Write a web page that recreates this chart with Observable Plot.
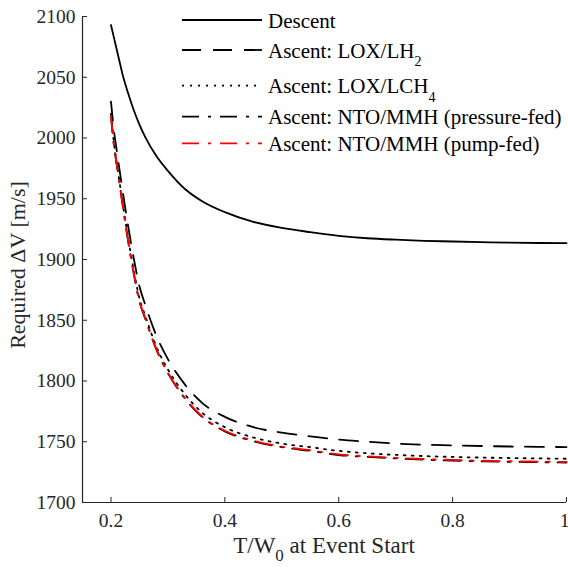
<!DOCTYPE html>
<html>
<head>
<meta charset="utf-8">
<script src="https://cdn.jsdelivr.net/npm/d3@7"></script>
<script src="https://cdn.jsdelivr.net/npm/@observablehq/plot@0.6"></script>
<style>
  html, body { margin: 0; padding: 0; background: #fff; }
  #chart { position: relative; width: 568px; height: 567px; }
  #chart svg, #chart svg text { font-family: "Liberation Serif", "DejaVu Serif", serif !important; }
</style>
</head>
<body>
<div id="chart"></div>
<script>
// ---- data ----
const tw = [0.2, 0.205, 0.21, 0.215, 0.22, 0.23, 0.24, 0.25, 0.26, 0.28, 0.30, 0.33, 0.36, 0.40, 0.45, 0.50, 0.55, 0.60, 0.65, 0.70, 0.75, 0.80, 0.85, 0.90, 0.95, 1.0];
const descent = [2093, 2083, 2073, 2063, 2053, 2037, 2023, 2011, 2001, 1985, 1973, 1958, 1948, 1939, 1931, 1926, 1922.5, 1919.5, 1917.5, 1916.3, 1915.4, 1914.8, 1914.3, 1913.9, 1913.6, 1913.4];
const loxLh2 = [2030, 2007, 1990, 1974, 1958, 1928, 1901, 1878, 1863, 1837, 1818, 1797, 1782, 1770.5, 1762, 1757.5, 1754.5, 1751.8, 1750, 1748.5, 1747.6, 1747, 1746.5, 1746.1, 1745.8, 1745.6];
const loxLch4 = [2020, 1997, 1980, 1964, 1948, 1918, 1891, 1868, 1854, 1828, 1809.5, 1789, 1774, 1762, 1753.5, 1748.5, 1745.5, 1742.5, 1740.5, 1739.2, 1738.2, 1737.5, 1737, 1736.6, 1736.3, 1736];
const ntoPressure = [2018.5, 1994.5, 1978.5, 1962.5, 1946.5, 1915.5, 1888.5, 1865.5, 1851.5, 1825.5, 1806.5, 1785.5, 1770.5, 1758.5, 1750.5, 1745.5, 1742.5, 1739.1, 1737.5, 1736.3, 1735.3, 1734.5, 1733.9, 1733.5, 1733.2, 1732.9];
const ntoPump = [2018, 1995, 1979, 1963, 1947, 1916, 1889, 1866, 1852, 1826, 1807, 1786, 1771, 1759, 1751, 1746, 1743, 1739.6, 1738, 1736.8, 1735.8, 1735, 1734.4, 1734, 1733.7, 1733.4];

const seriesNames = ["Descent", "Ascent: LOX/LH2", "Ascent: LOX/LCH4", "Ascent: NTO/MMH (pressure-fed)", "Ascent: NTO/MMH (pump-fed)"];
const seriesValues = [descent, loxLh2, loxLch4, ntoPressure, ntoPump];
const seriesColors = ["#000000", "#000000", "#000000", "#000000", "#ff0000"];
const seriesDash = [null, "19,12", "2,6", "17,9,3,9", "17,9,3,9"];

const xTicks = [0.2, 0.4, 0.6, 0.8, 1];
const xTickLabels = ["0.2", "0.4", "0.6", "0.8", "1"];
const yTicks = [1700, 1750, 1800, 1850, 1900, 1950, 2000, 2050, 2100];

// ---- build ----
const W = 568, H = 567;
const mL = 82, mR = 2, mT = 16, mB = 65;
const innerH = H - mT - mB, innerW = W - mL - mR;
const axisColor = "#262626";
const font = "\"Liberation Serif\", \"DejaVu Serif\", serif";

const lineMarks = seriesValues.map((vals, i) =>
  Plot.line(tw.map((x, j) => ({x, y: vals[j]})), {
    x: "x", y: "y",
    stroke: seriesColors[i],
    strokeWidth: 1.8,
    strokeDasharray: seriesDash[i] || undefined,
    curve: "monotone-x"
  })
);

const fmtX = d => xTickLabels[xTicks.indexOf(d)];

const plot = Plot.plot({
  width: W, height: H,
  marginLeft: mL, marginRight: mR, marginTop: mT, marginBottom: mB,
  style: {fontFamily: font, fontSize: "19.5px", color: axisColor, background: "#fff", overflow: "visible"},
  x: {domain: [0.15, 1]},
  y: {domain: [1700, 2100]},
  marks: [
    Plot.axisX({ticks: xTicks.slice(0, -1), tickSize: 0, tickPadding: 11, tickFormat: fmtX, label: null, fill: axisColor}),
    Plot.axisX({ticks: xTicks.slice(-1), tickSize: 0, tickPadding: 11, tickFormat: fmtX, label: null, fill: axisColor, dx: -2}),
    Plot.axisY({ticks: yTicks, tickSize: 0, tickPadding: 7, tickFormat: d => String(d), label: null, fill: axisColor}),
    Plot.tickX(xTicks, {x: d => d, stroke: axisColor, strokeWidth: 1, insetTop: innerH - 5}),
    Plot.tickY(yTicks, {y: d => d, stroke: axisColor, strokeWidth: 1, insetRight: innerW - 5}),
    Plot.ruleX([0.15], {stroke: axisColor, strokeWidth: 1.2}),
    Plot.ruleY([1700], {stroke: axisColor, strokeWidth: 1.2}),
    ...lineMarks
  ]
});

const svg = d3.select(plot);

// axis titles
const xt = svg.append("text")
  .attr("x", 324).attr("y", 553)
  .attr("text-anchor", "middle")
  .style("font-family", font).style("font-size", "23px").attr("fill", axisColor);
xt.append("tspan").text("T/W");
xt.append("tspan").text("0").attr("dy", 8).style("font-size", "17px");
xt.append("tspan").text(" at Event Start").attr("dy", -8);

svg.append("text")
  .attr("transform", "translate(25,265) rotate(-90)")
  .attr("text-anchor", "middle")
  .style("font-family", font).style("font-size", "22px").attr("fill", axisColor)
  .text("Required \u0394V [m/s]");

// legend
const legendY = [20, 50, 85.7, 116.7, 143.3];
const lg = svg.append("g");
seriesNames.forEach((name, i) => {
  const y = legendY[i];
  lg.append("line")
    .attr("x1", 182).attr("x2", 262).attr("y1", y).attr("y2", y)
    .attr("stroke", seriesColors[i]).attr("stroke-width", 1.8)
    .attr("stroke-dasharray", seriesDash[i]);
  const t = lg.append("text").attr("x", 268).attr("y", y + 7.5)
    .attr("text-anchor", "start")
    .style("font-family", font).style("font-size", "21px").attr("fill", "#000");
  const m = name.match(/^(.*?)(\d)$/);
  if (m) {
    t.append("tspan").text(m[1]);
    t.append("tspan").text(m[2]).attr("dy", 8.5).style("font-size", "14px");
  } else {
    t.text(name);
  }
});

document.getElementById("chart").appendChild(plot);
</script>
</body>
</html>
